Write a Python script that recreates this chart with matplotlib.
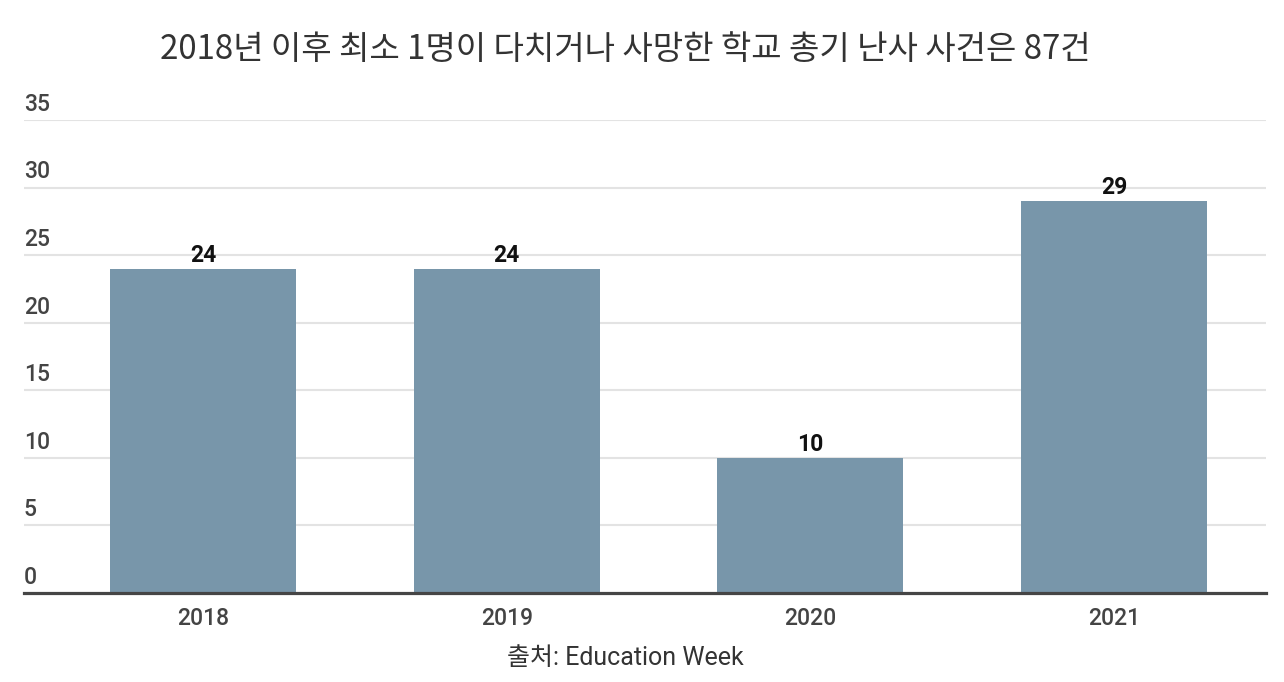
import matplotlib
matplotlib.use("Agg")
import matplotlib.pyplot as plt

years = ["2018", "2019", "2020", "2021"]
counts = [24, 24, 10, 29]
yticks = [0, 5, 10, 15, 20, 25, 30, 35]
title = "2018년 이후 최소 1명이 다치거나 사망한 학교 총기 난사 사건은 87건"
source = "출처: Education Week"

plt.rcParams['font.family'] = ['Roboto', 'Noto Sans CJK KR', 'DejaVu Sans']

W, H = 1284, 682
fig = plt.figure(figsize=(W / 100, H / 100), dpi=100)
left, right, top, bottom = 24, 1266, 120, 593
ax = fig.add_axes([left / W, (H - bottom) / H, (right - left) / W, (bottom - top) / H])

x = list(range(len(years)))
bars = ax.bar(x, counts, width=0.612, color="#7896aa", zorder=2)
ax.set_xlim(-0.589, 3.5)
ax.set_ylim(0, 35)

for yv in yticks[1:]:
    ax.axhline(yv, color="#e3e3e3", lw=1.5, zorder=1)
ax.axhline(0, color="#454545", lw=2.3, zorder=3, clip_on=False)

for s in ax.spines.values():
    s.set_visible(False)
ax.set_yticks([])
ax.set_xticks(x)
ax.set_xticklabels(years, fontsize=16.5, color="#444444", fontweight=500)
ax.tick_params(axis="x", length=0, pad=10)

for yv in yticks:
    ax.annotate(str(yv), xy=(0, yv), xycoords=("axes fraction", "data"),
                xytext=(0, 3), textcoords="offset points",
                ha="left", va="bottom", fontsize=16.5, color="#444444", fontweight=500)

for xi, v in zip(x, counts):
    ax.annotate(str(v), xy=(xi, v), xytext=(0, 1.5), textcoords="offset points",
                ha="center", va="bottom", fontsize=16.5, fontweight="bold", color="#111111")

fig.text(625 / W, 1 - 50 / H, title, ha="center", va="center", fontsize=23.8,
         color="#333333", family=['Noto Sans CJK KR', 'DejaVu Sans'])
fig.text(625 / W, 1 - 658 / H, source, ha="center", va="center", fontsize=18,
         color="#333333", family=['Roboto', 'Noto Sans CJK KR', 'DejaVu Sans'])

fig.savefig("out.png", dpi=100)
